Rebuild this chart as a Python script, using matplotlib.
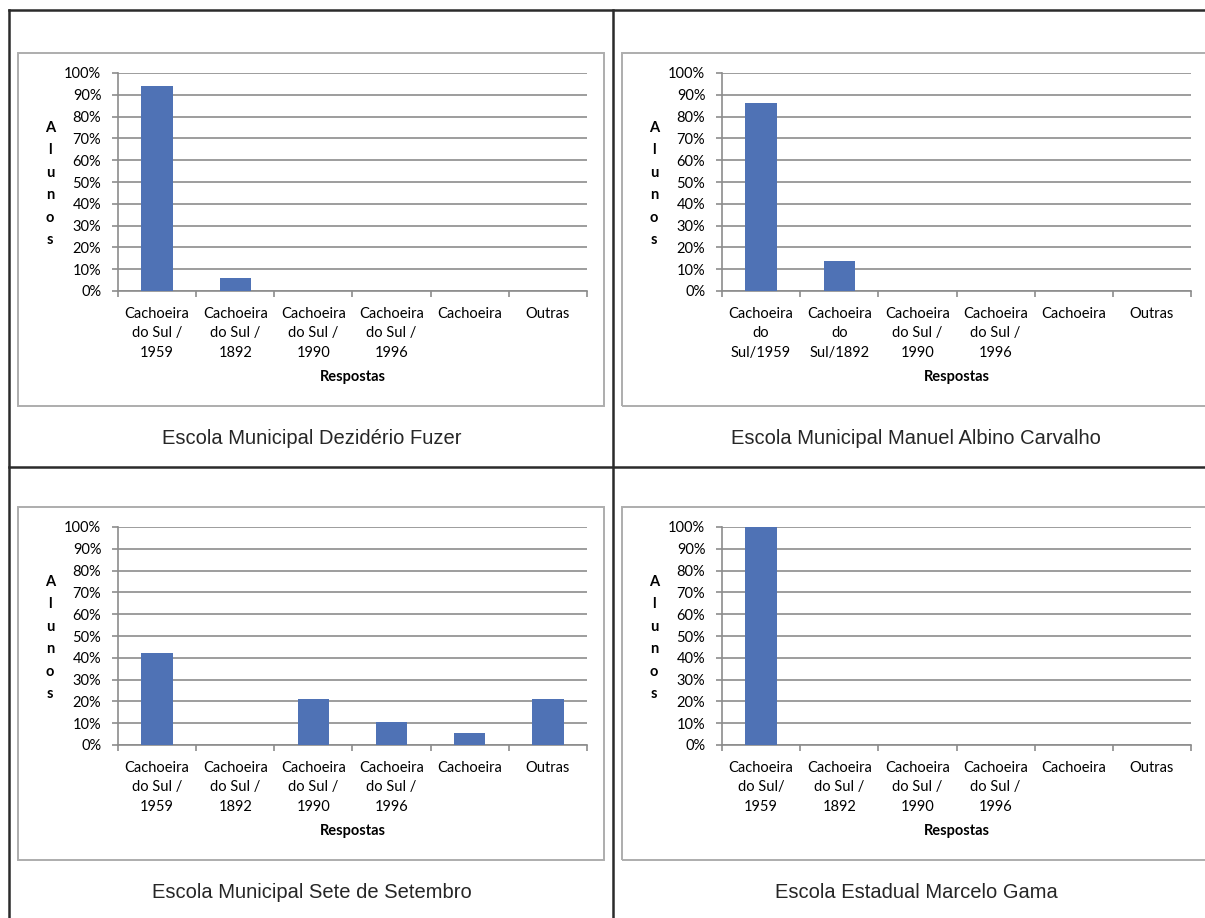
import matplotlib
matplotlib.use("Agg")
import matplotlib.pyplot as plt
from matplotlib.patches import Rectangle
from matplotlib.lines import Line2D

W, H = 1205, 918

# data
labels_std = ["Cachoeira\ndo Sul /\n1959", "Cachoeira\ndo Sul /\n1892", "Cachoeira\ndo Sul /\n1990",
              "Cachoeira\ndo Sul /\n1996", "Cachoeira", "Outras"]
labels_manuel = ["Cachoeira\ndo\nSul/1959", "Cachoeira\ndo\nSul/1892", "Cachoeira\ndo Sul /\n1990",
                 "Cachoeira\ndo Sul /\n1996", "Cachoeira", "Outras"]
labels_marcelo = ["Cachoeira\ndo Sul/\n1959", "Cachoeira\ndo Sul /\n1892", "Cachoeira\ndo Sul /\n1990",
                  "Cachoeira\ndo Sul /\n1996", "Cachoeira", "Outras"]

vals_deziderio = [94, 6, 0, 0, 0, 0]
vals_manuel = [86.4, 13.6, 0, 0, 0, 0]
vals_sete = [42.1, 0, 21.1, 10.5, 5.3, 21.1]
vals_marcelo = [100, 0, 0, 0, 0, 0]

schools = ["Escola Municipal Dezidério Fuzer", "Escola Municipal Manuel Albino Carvalho",
           "Escola Municipal Sete de Setembro", "Escola Estadual Marcelo Gama"]

yticks = list(range(0, 101, 10))

BAR = "#4F72B5"
GRID = "#8C8C8C"
TICKFONT = "Lato"
FS = 10.5


def fx(x):
    return x / W


def fy(y):
    return 1 - y / H


def rect(x1, y1, x2, y2):
    return [fx(x1), fy(y2), (x2 - x1) / W, (y2 - y1) / H]


fig = plt.figure(figsize=(W / 100, H / 100), dpi=100)
fig.patch.set_facecolor("white")

# table lines
for (x1, y1, x2, y2) in [(9, 10, 1210, 10), (9, 10, 9, 918), (613, 10, 613, 918), (9, 467, 1210, 467)]:
    fig.add_artist(Line2D([fx(x1), fx(x2)], [fy(y1), fy(y2)], color="#2b2b2b", lw=1.8))

panels = [
    (vals_deziderio, labels_std, schools[0], 0, 0),
    (vals_manuel, labels_manuel, schools[1], 604, 0),
    (vals_sete, labels_std, schools[2], 0, 454),
    (vals_marcelo, labels_marcelo, schools[3], 604, 454),
]

for vals, labels, title, ox, oy in panels:
    # chart frame
    bx1 = 18 + ox
    bx2 = 604 + ox if ox == 0 else 1215
    fig.add_artist(Rectangle((fx(bx1), fy(406 + oy)), (bx2 - bx1) / W, (406 - 53) / H,
                             transform=fig.transFigure, fill=False, edgecolor="#ADADAD", lw=1.4))

    ax = fig.add_axes(rect(118 + ox, 73 + oy, 587 + ox, 291 + oy))
    x = list(range(len(vals)))
    ax.bar(x, vals, width=0.4, color=BAR, zorder=3)
    ax.set_xlim(-0.5, len(vals) - 0.5)
    ax.set_ylim(0, 100)
    ax.set_yticks(yticks)
    ax.set_yticklabels([f"{t}%" for t in yticks], fontsize=FS, family=TICKFONT)
    ax.yaxis.grid(True, color=GRID, lw=1.2)
    ax.set_axisbelow(True)

    ax.set_xticks([i - 0.5 for i in range(len(vals) + 1)])
    ax.set_xticklabels([])
    ax.set_xticks(x, minor=True)
    ax.set_xticklabels(labels, minor=True, fontsize=FS, family=TICKFONT, linespacing=1.5)
    ax.tick_params(axis="x", which="minor", length=0, pad=11.5)
    ax.tick_params(axis="x", which="major", length=4, color=GRID, width=1.2)
    ax.tick_params(axis="y", length=4, color=GRID, width=1.2, pad=8)

    for s in ["top", "right"]:
        ax.spines[s].set_visible(False)
    for s in ["left", "bottom"]:
        ax.spines[s].set_color(GRID)
        ax.spines[s].set_linewidth(1.2)

    fig.text(fx((118 + 587) / 2 + ox), fy(377 + oy), "Respostas", ha="center", va="center",
             fontsize=FS, family=TICKFONT, fontweight="bold")
    fig.text(fx(50 + ox), fy(184 + oy), "\n".join("Alunos"), ha="center", va="center",
             fontsize=FS, family=TICKFONT, fontweight="bold", linespacing=1.76)
    fig.text(fx(312 + ox), fy(438 + oy), title, ha="center", va="center",
             fontsize=14.5, family="Liberation Sans", color="#262626")

fig.savefig("out.png", dpi=100, facecolor="white")
